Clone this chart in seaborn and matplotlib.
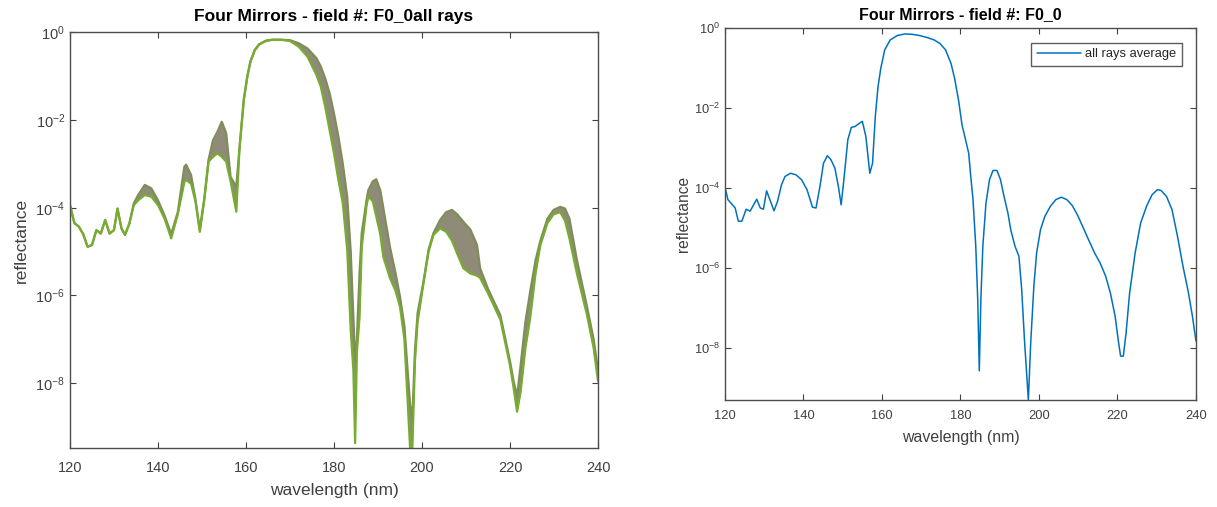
import numpy as np
import pandas as pd
import matplotlib
matplotlib.use("Agg")
import matplotlib.pyplot as plt
import seaborn as sns

sns.set_style("ticks")
plt.rcParams['font.family'] = ['Liberation Sans', 'DejaVu Sans']
plt.rcParams['axes.unicode_minus'] = False

# left panel: all rays, read as lower / upper edge of the ray bundle (log10 of reflectance)
left_wl = [120.0, 121.0, 122.0, 123.0, 124.0, 125.0, 126.0, 127.0, 128.0, 129.0,
           130.0, 130.8, 131.7, 132.5, 133.5, 134.5, 135.5, 137.0, 138.5, 140.0,
           141.5, 143.0, 144.5, 146.0, 146.4, 147.5, 148.5, 149.5, 150.5, 151.5,
           152.5, 153.5, 154.5, 155.5, 156.5, 157.8, 158.5, 159.5, 160.3, 161.0,
           162.0, 163.0, 164.5, 166.0, 168.0, 170.0, 172.0, 174.0, 176.0, 177.0,
           178.0, 179.0, 180.0, 181.0, 182.0, 183.0, 183.8, 184.4, 184.8, 185.2,
           185.8, 186.3, 187.4, 187.8, 188.8, 189.6, 190.5, 191.2, 192.7, 194.0,
           195.0, 196.0, 197.3, 197.8, 198.4, 199.0, 200.3, 201.5, 202.6, 204.1,
           205.5, 206.8, 208.0, 209.4, 211.0, 212.5, 213.2, 215.0, 217.8, 220.0,
           220.8, 221.6, 222.4, 223.5, 224.6, 225.8, 226.9, 228.5, 229.9, 231.4,
           232.5, 233.5, 235.2, 237.5, 239.0, 240.0]
left_lo_exp = [-3.94, -4.35, -4.43, -4.6, -4.89, -4.85, -4.51, -4.59, -4.28, -4.59,
               -4.51, -4.02, -4.47, -4.62, -4.36, -3.94, -3.83, -3.71, -3.75, -3.94,
               -4.25, -4.7, -4.15, -3.41, -3.37, -3.45, -3.85, -4.55, -3.85, -2.95,
               -2.84, -2.76, -2.84, -2.95, -3.4, -4.09, -2.7, -1.56, -1.02, -0.68,
               -0.41, -0.28, -0.2, -0.17, -0.17, -0.2, -0.33, -0.56, -0.97, -1.24,
               -1.7, -2.23, -2.76, -3.37, -3.9, -4.95, -6.8, -7.7, -9.37, -7.3,
               -6.5, -4.9, -3.95, -3.75, -3.85, -4.2, -4.6, -5.12, -5.6, -5.9,
               -6.26, -7.0, -9.5, -9.5, -7.5, -6.6, -5.75, -5.0, -4.62, -4.47,
               -4.55, -4.75, -5.05, -5.38, -5.5, -5.55, -5.6, -5.95, -6.55, -7.6,
               -8.1, -8.65, -8.2, -7.2, -6.5, -5.5, -4.85, -4.35, -4.15, -4.1,
               -4.3, -4.7, -5.5, -6.45, -7.2, -7.95]
left_hi_exp = [-3.94, -4.35, -4.43, -4.6, -4.89, -4.85, -4.51, -4.59, -4.28, -4.59,
               -4.51, -4.02, -4.47, -4.62, -4.36, -3.9, -3.71, -3.48, -3.56, -3.83,
               -4.18, -4.6, -4.1, -3.06, -3.02, -3.25, -3.8, -4.5, -3.8, -2.9,
               -2.46, -2.27, -2.04, -2.3, -3.3, -3.52, -2.65, -1.52, -1.0, -0.66,
               -0.4, -0.27, -0.19, -0.17, -0.17, -0.18, -0.25, -0.37, -0.59, -0.78,
               -1.05, -1.39, -1.85, -2.38, -3.0, -3.75, -5.0, -6.5, -7.5, -7.0,
               -5.5, -4.58, -3.82, -3.6, -3.4, -3.35, -3.6, -4.0, -4.89, -5.5,
               -6.03, -6.7, -8.5, -8.8, -7.25, -6.4, -5.7, -4.95, -4.58, -4.28,
               -4.1, -4.05, -4.15, -4.32, -4.5, -4.85, -5.38, -5.85, -6.45, -7.5,
               -7.95, -8.3, -7.6, -6.6, -5.9, -5.2, -4.75, -4.25, -4.05, -3.98,
               -4.02, -4.25, -5.19, -6.26, -7.0, -7.7]

# right panel: all rays average (log10 of reflectance)
avg_wl = [120.0, 120.75, 122.6, 123.4, 124.3, 125.4, 126.4, 128.1, 129.0, 129.8,
          130.6, 132.5, 133.4, 134.4, 135.3, 136.7, 138.1, 139.5, 140.9, 142.3,
          143.2, 144.2, 145.1, 146.1, 147.0, 148.0, 148.9, 149.6, 150.3, 151.3,
          152.2, 153.1, 154.1, 155.0, 155.9, 156.9, 157.6, 158.3, 159.0, 159.7,
          160.7, 162.1, 163.9, 165.8, 167.7, 169.6, 171.5, 173.3, 174.8, 176.2,
          177.6, 178.5, 179.5, 180.4, 181.3, 182.1, 182.7, 183.2, 183.9, 184.4,
          184.8, 185.2, 185.7, 186.5, 187.4, 188.3, 189.3, 190.2, 191.1, 192.1,
          192.8, 193.9, 194.9, 195.6, 196.3, 197.3, 197.9, 198.7, 199.4, 200.4,
          201.5, 202.9, 204.3, 205.7, 207.1, 208.5, 209.9, 211.3, 212.8, 214.2,
          215.6, 217.0, 218.2, 219.4, 220.3, 220.8, 221.5, 222.2, 223.1, 224.5,
          225.9, 227.4, 228.8, 230.2, 231.1, 232.5, 233.9, 235.3, 236.7, 238.1,
          239.1, 240.0]
avg_exp = [-3.98, -4.29, -4.5, -4.83, -4.83, -4.53, -4.58, -4.28, -4.5, -4.53,
           -4.07, -4.57, -4.33, -3.92, -3.71, -3.63, -3.67, -3.79, -4.04, -4.48,
           -4.5, -3.96, -3.38, -3.19, -3.29, -3.5, -3.96, -4.42, -3.79, -2.79,
           -2.48, -2.46, -2.39, -2.33, -2.71, -3.63, -3.38, -2.21, -1.46, -1.0,
           -0.54, -0.29, -0.18, -0.14, -0.15, -0.18, -0.23, -0.29, -0.38, -0.54,
           -0.88, -1.25, -1.79, -2.42, -2.79, -3.13, -3.79, -4.29, -5.46, -6.79,
           -8.58, -6.79, -5.46, -4.38, -3.79, -3.56, -3.56, -3.79, -4.21, -4.63,
           -5.04, -5.46, -5.71, -6.54, -7.79, -9.31, -7.88, -6.46, -5.63, -5.04,
           -4.71, -4.46, -4.29, -4.23, -4.29, -4.44, -4.69, -5.0, -5.33, -5.63,
           -5.88, -6.21, -6.63, -7.21, -7.88, -8.21, -8.21, -7.63, -6.63, -5.63,
           -4.88, -4.46, -4.17, -4.04, -4.06, -4.21, -4.54, -5.21, -5.96, -6.63,
           -7.21, -7.83]

xticks = [120, 140, 160, 180, 200, 220, 240]
yticks = [1e0, 1e-2, 1e-4, 1e-6, 1e-8]

lo = 10.0 ** np.array(left_lo_exp)
hi = 10.0 ** np.array(left_hi_exp)
rays = pd.DataFrame({
    'wavelength': left_wl * 2,
    'reflectance': np.concatenate([hi, lo]),
    'ray': ['first'] * len(left_wl) + ['last'] * len(left_wl),
})
avg = pd.DataFrame({'wavelength': avg_wl, 'reflectance': 10.0 ** np.array(avg_exp)})

fig = plt.figure(figsize=(12.17, 5.07), dpi=100)
ax1 = fig.add_axes([0.0575, 0.1154, 0.4339, 0.8209])
ax2 = fig.add_axes([0.5957, 0.211, 0.387, 0.7331])

txt = '#404040'

# left: bundle of rays
ax1.fill_between(left_wl, lo, hi, color='#8f8b78', lw=0)
sns.lineplot(data=rays, x='wavelength', y='reflectance', hue='ray',
             palette=['#7f8d58', '#77AC30'], lw=1.6, legend=False, ax=ax1)
ax1.set_yscale('log')
ax1.set_ylim(10 ** -9.49, 1.0)
ax1.set_title('Four Mirrors - field #: F0_0all rays', fontsize=12.5,
              fontweight='bold', color='black', pad=8)
ax1.set_xlabel('wavelength (nm)', fontsize=12.5, color=txt, labelpad=6)
ax1.set_ylabel('reflectance', fontsize=12.5, color=txt, labelpad=5)
ax1.tick_params(labelsize=10.5)
ax1.tick_params(axis='x', pad=9)

# right: average
sns.lineplot(data=avg, x='wavelength', y='reflectance', color='#0072BD', lw=1.1,
             label='all rays average', ax=ax2)
ax2.set_yscale('log')
ax2.set_ylim(10 ** -9.31, 1.0)
ax2.set_title('Four Mirrors - field #: F0_0', fontsize=11.5,
              fontweight='bold', color='black', pad=7)
ax2.set_xlabel('wavelength (nm)', fontsize=11.4, color=txt, labelpad=6)
ax2.set_ylabel('reflectance', fontsize=11.2, color=txt, labelpad=2)
ax2.tick_params(labelsize=9.3)
ax2.tick_params(axis='x', pad=7)
leg = ax2.legend(loc='upper right', fontsize=9.3, frameon=True, fancybox=False,
                 edgecolor='#333333', handlelength=3.4, borderaxespad=1.1,
                 borderpad=0.45, handletextpad=0.3)
leg.get_frame().set_linewidth(1.0)

for ax in (ax1, ax2):
    ax.set_xlim(120, 240)
    ax.set_xticks(xticks)
    ax.set_yticks(yticks)
    ax.yaxis.set_minor_locator(matplotlib.ticker.NullLocator())
    ax.tick_params(direction='in', top=True, right=True, length=4, width=0.8,
                   color='#404040', labelcolor=txt)
    for s in ax.spines.values():
        s.set_visible(True)
        s.set_color('#4d4d4d')
        s.set_linewidth(1.0)

fig.savefig('out.png', dpi=100, facecolor='white')
